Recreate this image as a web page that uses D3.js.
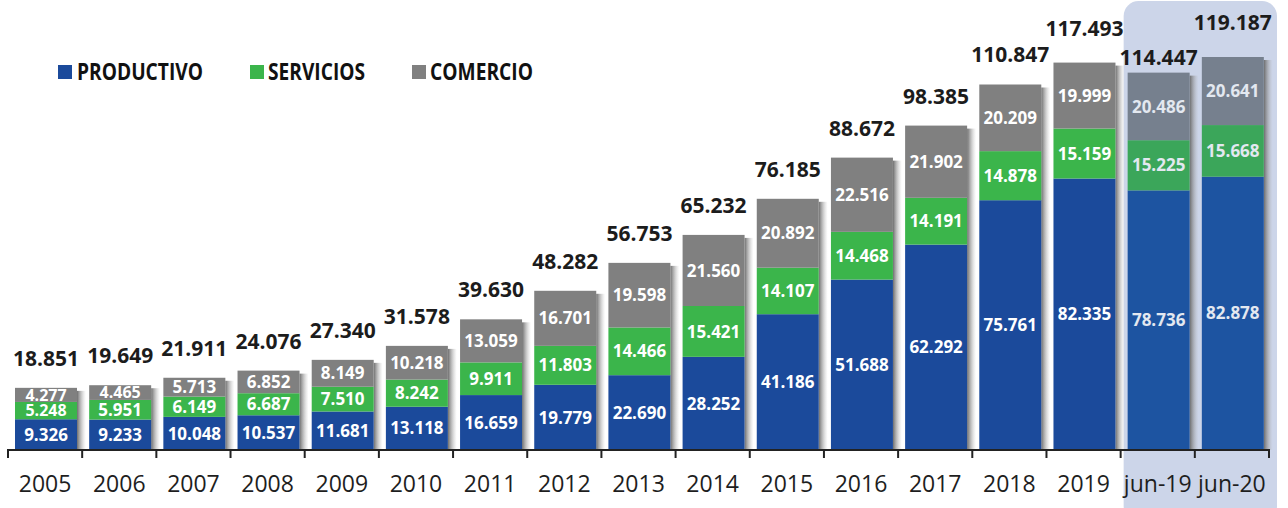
<!DOCTYPE html>
<html lang="es">
<head>
<meta charset="UTF-8">
<title>Productivo / Servicios / Comercio</title>
<script src="https://d3js.org/d3.v7.min.js"></script>
<style>
  body { margin: 0; background: #fff; }
  svg { display: block; font-family: "Open Sans", "Noto Sans", sans-serif; }
</style>
</head>
<body>
<svg id="chart" width="1288" height="508"></svg>
<script>
const categories = ["2005","2006","2007","2008","2009","2010","2011","2012","2013","2014","2015","2016","2017","2018","2019","jun-19","jun-20"];
const productivo = [9326,9233,10048,10537,11681,13118,16659,19779,22690,28252,41186,51688,62292,75761,82335,78736,82878];
const servicios  = [5248,5951,6149,6687,7510,8242,9911,11803,14466,15421,14107,14468,14191,14878,15159,15225,15668];
const comercio   = [4277,4465,5713,6852,8149,10218,13059,16701,19598,21560,20892,22516,21902,20209,19999,20486,20641];
const totals     = [18851,19649,21911,24076,27340,31578,39630,48282,56753,65232,76185,88672,98385,110847,117493,114447,119187];
const seriesNames = ["PRODUCTIVO","SERVICIOS","COMERCIO"];
const highlighted = ["jun-19","jun-20"];

const fmt = v => d3.format(",")(v).replace(/,/g, ".");

const svg = d3.select("#chart");
const colors = { PRODUCTIVO: "#1b4a9b", SERVICIOS: "#3bb54b", COMERCIO: "#808080" };
const colorsHi = { PRODUCTIVO: "#1d54a1", SERVICIOS: "#3ba65a", COMERCIO: "#76808e" };

const x = d3.scaleBand().domain(categories).range([8, 1269]).padding(0);
const y = d3.scaleLinear().domain([0, 119187]).range([450, 57]);
const barOff = 7, barW = 62;

// gradient for the bar shadow
const defs = svg.append("defs");
const grad = defs.append("linearGradient").attr("id", "shadow").attr("x1", "0%").attr("x2", "100%");
grad.append("stop").attr("offset", "0%").attr("stop-color", "#666").attr("stop-opacity", 0.95);
grad.append("stop").attr("offset", "100%").attr("stop-color", "#bbb").attr("stop-opacity", 0);

// highlight panel behind the last two bars
svg.append("rect")
  .attr("x", x(highlighted[0]) + 3).attr("y", 1)
  .attr("width", x.bandwidth() * 2 + 5).attr("height", 520)
  .attr("rx", 15).attr("fill", "#ccd5e9");

const rows = categories.map((c, i) => ({ cat: c, PRODUCTIVO: productivo[i], SERVICIOS: servicios[i], COMERCIO: comercio[i] }));
const stack = d3.stack().keys(seriesNames)(rows);

// shadows
svg.append("g").selectAll("rect").data(rows).join("rect")
  .attr("x", d => x(d.cat) + barOff + barW)
  .attr("y", (d, i) => y(totals[i]) + 3)
  .attr("width", 9)
  .attr("height", (d, i) => 450 - y(totals[i]) - 3)
  .attr("fill", "url(#shadow)");

const layers = svg.append("g").selectAll("g").data(stack).join("g");
layers.selectAll("rect").data(s => s.map(d => ({ key: s.key, d }))).join("rect")
  .attr("x", p => x(p.d.data.cat) + barOff)
  .attr("y", p => y(p.d[1]))
  .attr("width", barW)
  .attr("height", p => y(p.d[0]) - y(p.d[1]))
  .attr("fill", p => highlighted.includes(p.d.data.cat) ? colorsHi[p.key] : colors[p.key]);

layers.selectAll("text").data(s => s.map(d => ({ key: s.key, d }))).join("text")
  .attr("x", p => x(p.d.data.cat) + barOff + barW / 2)
  .attr("y", p => (y(p.d[0]) + y(p.d[1])) / 2)
  .attr("dy", "0.36em")
  .attr("text-anchor", "middle")
  .attr("font-size", p => (y(p.d[0]) - y(p.d[1])) < 18 ? 16 : 17)
  .attr("font-weight", "bold")
  .attr("fill", p => highlighted.includes(p.d.data.cat) ? "#e3e8f0" : "#fff")
  .text(p => fmt(p.d.data[p.key]));

// totals above bars
const lift = { "2019": 5, "jun-19": -14, "jun-20": 5 };
svg.append("g").selectAll("text").data(categories).join("text")
  .attr("x", c => x(c) + barOff + barW / 2)
  .attr("y", (c, i) => y(totals[i]) - 22 - (lift[c] || 0))
  .attr("text-anchor", "middle")
  .attr("font-size", 21).attr("font-weight", "bold").attr("fill", "#1c1c1c")
  .text((c, i) => fmt(totals[i]));

// x axis
const axis = svg.append("g");
axis.append("line").attr("x1", 7).attr("x2", 1270).attr("y1", 450).attr("y2", 450)
  .attr("stroke", "#222").attr("stroke-width", 2);
axis.selectAll("line.tick").data(d3.range(categories.length + 1)).join("line")
  .attr("class", "tick")
  .attr("x1", i => 8 + i * x.step()).attr("x2", i => 8 + i * x.step())
  .attr("y1", 450).attr("y2", 458)
  .attr("stroke", "#222").attr("stroke-width", 2);
axis.selectAll("text").data(categories).join("text")
  .attr("x", c => x(c) + x.bandwidth() / 2)
  .attr("y", 492)
  .attr("text-anchor", "middle")
  .attr("font-size", 23).attr("fill", "#1e1e1e")
  .text(c => c);

// legend
const legendPos = [{ sx: 58, tx: 77, w: 126 }, { sx: 250, tx: 268, w: 97 }, { sx: 412, tx: 430, w: 103 }];
const lg = svg.append("g").selectAll("g").data(seriesNames).join("g");
lg.append("rect")
  .attr("x", (s, i) => legendPos[i].sx).attr("y", 65)
  .attr("width", 14).attr("height", 14)
  .attr("fill", s => colors[s]);
lg.append("text")
  .attr("x", (s, i) => legendPos[i].tx).attr("y", 80)
  .attr("font-size", 23).attr("font-weight", "bold").attr("fill", "#111")
  .attr("textLength", (s, i) => legendPos[i].w).attr("lengthAdjust", "spacingAndGlyphs")
  .text(s => s);
</script>
</body>
</html>
